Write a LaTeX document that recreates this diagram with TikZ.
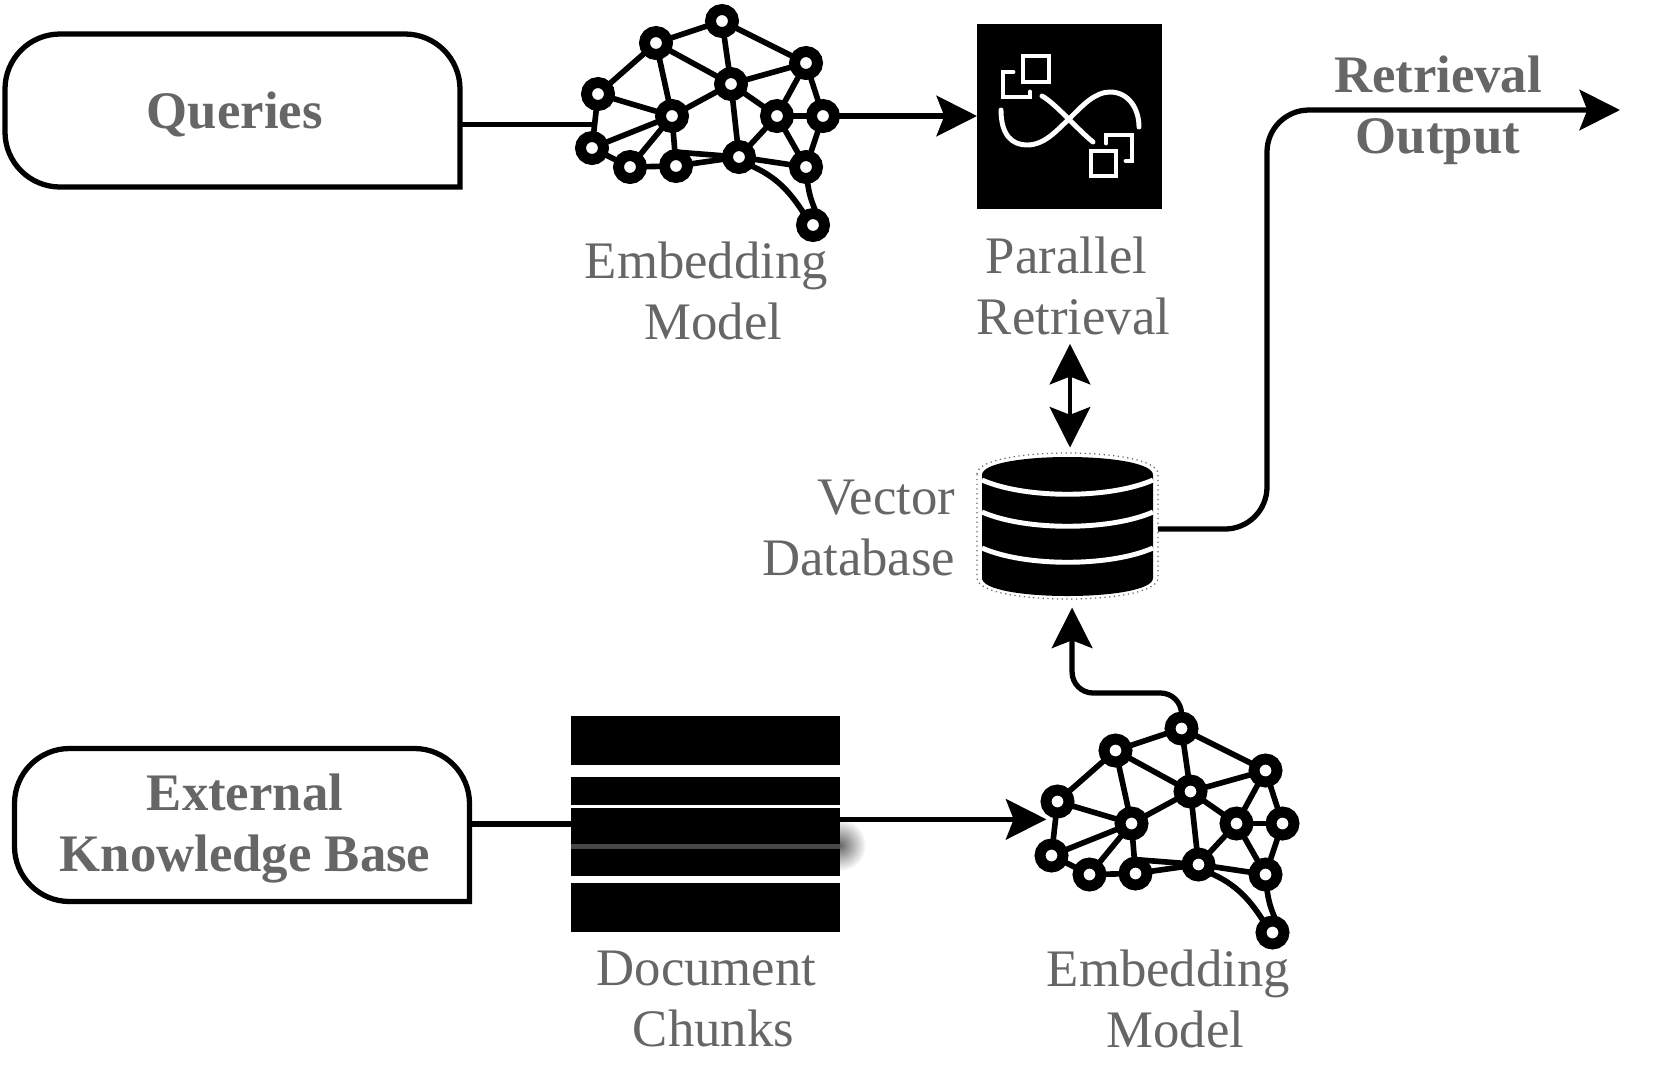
\documentclass[tikz,border=0pt]{standalone}
\usepackage{fontspec}
\setmainfont{Liberation Serif}
\usepackage{tikz}
\usetikzlibrary{arrows.meta, calc}

\definecolor{labelgray}{HTML}{666666}

\tikzset{
    brainnode/.style={circle, draw=black, fill=white, line width=3.1pt, minimum size=23*0.01cm, inner sep=0pt, outer sep=0pt},
    brainlink/.style={line width=1.6pt},
    brain/.pic={
        \foreach \nname/\pos in {n1/{722,21}, n2/{656,43}, n3/{806,63}, n4/{598,94}, n5/{731,84}, n6/{672,116}, n7/{777,116}, n8/{823,116}, n9/{592,148}, n10/{630,167}, n11/{676,166}, n12/{739,157}, n13/{806,167}, n14/{813,225}}
            \node[brainnode] (\nname) at (\pos) {};
        \foreach \a/\b in {n4/n2, n2/n1, n1/n3, n2/n5, n1/n5, n5/n3, n2/n6, n4/n6, n6/n5, n4/n9, n9/n6, n9/n10, n10/n11, n10/n6, n6/n11, n11/n12, n5/n12, n5/n7, n3/n7, n3/n8, n7/n8, n7/n12, n7/n13, n8/n13, n12/n13}
            \draw[brainlink] (\a) -- (\b);
        \draw[brainlink] ($(n6)!0.72!(n11)$) -- (n12);
        \draw[brainlink] (n12.-40) .. controls ($(n12.-40)+(30,12)$) and ($(n14.130)+(-14,-22)$) .. (n14.130);
        \draw[brainlink] (n13.-85) .. controls ($(n13.-85)+(2,16)$) and ($(n14.70)+(-6,-14)$) .. (n14.70);
    },
    sourcebox/.style={minimum width=455*0.01cm, minimum height=153*0.01cm, inner sep=0pt, outer sep=0pt},
    caption/.style={inner sep=0pt, align=center, text=labelgray, font=\fontsize{15}{17.4}\selectfont},
    boldcaption/.style={caption, font=\fontsize{15}{17.4}\selectfont\bfseries},
    blackbar/.style={fill=black},
    iconline/.style={draw=white, line width=1.4pt, line cap=round},
    plainline/.style={line width=1.5pt},
    arrow/.style={-{Stealth[length=11.5pt, width=11.5pt, inset=2.2pt]}, line width=1.5pt}
}

\begin{document}
\begin{tikzpicture}[x=0.01cm, y=-0.01cm]
    \useasboundingbox (0,0) rectangle (1660,1081);

    % upper row
    \node[sourcebox] (queries) at (232.5,110.5) {};
    \node[boldcaption] (lblqueries) at (234.7,114.5) {Queries};
    \pic (bq) at (0,0) {brain};
    \node[fill=black, minimum size=185*0.01cm, inner sep=0pt, outer sep=0pt] (parallel) at (1069.5,116) {};
    \node[caption] (lblembedq) at (706.5,291) {Embedding\\\hspace*{4pt}Model};
    \node[caption] (lblparallel) at (1070,286) {Parallel\hspace*{2pt}\\\hspace*{2pt}Retrieval};
    \node[boldcaption] (lbloutput) at (1438,110) {Retrieval\\Output};

    % icon in the black square
    \draw[iconline] (1023,56) rectangle (1049,82);
    \draw[iconline] (1013,72) -- (1003,72) -- (1003,97) -- (1030,97) -- (1030,92);
    \draw[iconline] (1001,110) .. controls (1001,135) and (1012,145) .. (1027,145) .. controls (1045,145) and (1057,130) .. (1070,118) .. controls (1083,105) and (1095,92) .. (1110,92) .. controls (1128,92) and (1139,108) .. (1139,127);
    \draw[iconline] (1042,96) .. controls (1055,103) and (1078,130) .. (1093,142);
    \draw[iconline] (1091,151) rectangle (1116,176);
    \draw[iconline] (1106,143) -- (1106,135) -- (1132,135) -- (1132,161) -- (1126,161);

    % vector database
    \node[minimum width=181*0.01cm, minimum height=147*0.01cm, inner sep=0pt, outer sep=0pt] (vdb) at (1067.5,527) {};
    \node[caption, align=right, anchor=east] (lblvdb) at (956,528) {Vector\\Database};
    \draw[black!60, densely dotted, line width=0.35pt] (977,474) .. controls (977,446) and (1158,446) .. (1158,474) -- (1158,578) .. controls (1158,606) and (977,606) .. (977,578) -- cycle;
    \fill[black] (982,475) .. controls (982,451) and (1153,451) .. (1153,475) -- (1153,578) .. controls (1153,602) and (982,602) .. (982,578) -- cycle;
    \foreach \y in {480, 512, 548}
        \draw[white, line width=1.4pt] (982,\y) .. controls (1025,\y+19) and (1110,\y+19) .. (1153,\y);

    % lower row
    \node[sourcebox] (extkb) at (242,825) {};
    \node[boldcaption] (lblextkb) at (245,828.5) {External\\Knowledge Base};
    \shade[inner color=black!60, outer color=white] (840,845) circle (26);
    \node[minimum width=269*0.01cm, minimum height=216*0.01cm, inner sep=0pt, outer sep=0pt] (dchunks) at (705.5,824) {};
    \fill[blackbar] (571,716) rectangle (840,765);
    \fill[blackbar] (571,777) rectangle (840,805);
    \fill[blackbar] (571,808) rectangle (840,876);
    \fill[blackbar] (571,883) rectangle (840,932);
    \fill[black!72] (571,844) rectangle (840,849);
    \pic (bk) at (459.5,707.5) {brain};
    \node[caption] (lblchunks) at (706.5,999) {Document\\\hspace*{4pt}Chunks};
    \node[caption] (lblembedk) at (1168.5,999) {Embedding\\\hspace*{4pt}Model};

    % outlines of both source boxes
    \foreach \bname in {queries, extkb}
        \draw[plainline] (\bname.south) [sharp corners] -- (\bname.south east) -- (\bname.east) [rounded corners=0.55cm] -- (\bname.north east) -- (\bname.north west) -- (\bname.south west) -- cycle;

    % connectors
    \coordinate (qin) at ($(bqn4)!0.57!(bqn9)$);
    \coordinate (kin) at ($(bkn4)!0.33!(bkn9)$);
    \draw[plainline] (queries.east |- qin) -- (qin);
    \draw[arrow] (bqn8) -- (parallel);
    \draw[plainline] (extkb.east |- dchunks.west) -- (dchunks.west);
    \draw[arrow, shorten >=2.6pt] (dchunks.east |- kin) -- (kin);
    \draw[{Stealth[length=11.5pt, width=11.5pt, inset=2.2pt]}-{Stealth[length=11.5pt, width=11.5pt, inset=2.2pt]}, line width=1.35pt, shorten >=1.7pt] (lblparallel.south) ++(0,8) -- (lblparallel.south |- vdb.north);
    \draw[arrow, rounded corners=0.21cm] (bkn1.north) -- ++(0,-24) -| ([xshift=1.3pt, yshift=-2pt]vdb.south);
    \draw[arrow, rounded corners=0.42cm] (vdb.east |- 0,529) -- (1267,529) -- (1267,110) -- (1620,110);
\end{tikzpicture}
\end{document}
